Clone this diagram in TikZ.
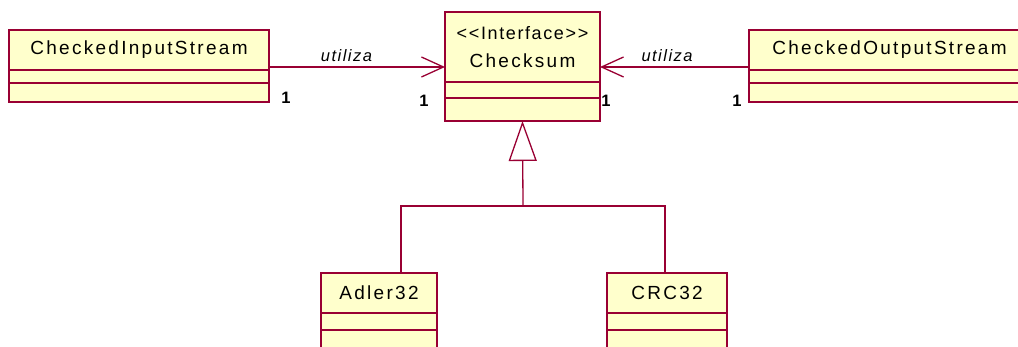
\documentclass[tikz,border=0pt]{standalone}
\usepackage{fontspec}
\setmainfont{Liberation Sans}
\newfontfamily\umlfont[LetterSpace=12]{Liberation Sans}
\newfontfamily\umlsmall[LetterSpace=9]{Liberation Sans}
\usetikzlibrary{positioning,arrows.meta}
\definecolor{umlred}{RGB}{153,0,51}
\definecolor{umlfill}{RGB}{255,255,204}

\tikzset{
	clsname/.style={draw=umlred, fill=umlfill, line width=1.2pt, inner sep=0pt, outer sep=0pt,
		font=\umlfont\fontsize{19}{20}\selectfont},
	clspart/.style={draw=umlred, fill=umlfill, line width=1.2pt, inner sep=0pt, outer sep=0pt},
	clsborder/.style={draw=umlred, line width=2pt},
	uses/.style={draw=umlred, line width=1.3pt, -{Straight Barb[length=22pt, width=20pt, line width=1.3pt]}},
	realize/.style={draw=umlred, line width=1.3pt},
	gen/.style={draw=umlred, line width=1.3pt, -{Triangle[open, length=40pt, width=28pt, fill=white, line width=1.3pt]}},
	mult/.style={inner sep=0pt, font=\bfseries\fontsize{16.5}{18}\selectfont},
	rolename/.style={inner sep=2pt, font=\umlsmall\itshape\fontsize{16.5}{18}\selectfont}
}

\begin{document}
\begin{tikzpicture}[x=1pt, y=-1pt]
	\useasboundingbox (0,0) rectangle (1018,347);
	\clip (0,0) rectangle (1018,347);

	% classes
	\node [clsname, minimum width=260, minimum height=40] (cisname) at (139,50) {CheckedInputStream};
	\node [clspart, minimum width=260, minimum height=13, below=0pt of cisname] (cisattr) {};
	\node [clspart, minimum width=260, minimum height=19, below=0pt of cisattr] (cisops) {};
	\draw [clsborder] (cisname.north west) rectangle (cisops.south east);

	\node [clsname, minimum width=155, minimum height=70, align=center,
		font=\umlfont\fontsize{19}{28}\selectfont] (csname) at (522.5,47)
		{{\umlsmall\fontsize{18}{28}\selectfont \textless\textless Interface\textgreater\textgreater}\\Checksum};
	\node [clspart, minimum width=155, minimum height=16, below=0pt of csname] (csattr) {};
	\node [clspart, minimum width=155, minimum height=23, below=0pt of csattr] (csops) {};
	\draw [clsborder] (csname.north west) rectangle (csops.south east);

	\node [clsname, minimum width=281, minimum height=40] (cosname) at (889.5,50) {CheckedOutputStream};
	\node [clspart, minimum width=281, minimum height=13, below=0pt of cosname] (cosattr) {};
	\node [clspart, minimum width=281, minimum height=19, below=0pt of cosattr] (cosops) {};
	\draw [clsborder] (cosname.north west) rectangle (cosops.south east);

	\node [clsname, minimum width=116, minimum height=40] (adname) at (379,293) {Adler32};
	\node [clspart, minimum width=116, minimum height=17, below=0pt of adname] (adattr) {};
	\node [clspart, minimum width=116, minimum height=24, below=0pt of adattr] (adops) {};
	\draw [clsborder] (adname.north west) rectangle (adops.south east);

	\node [clsname, minimum width=120, minimum height=40] (crcname) at (667,293) {CRC32};
	\node [clspart, minimum width=120, minimum height=17, below=0pt of crcname] (crcattr) {};
	\node [clspart, minimum width=120, minimum height=24, below=0pt of crcattr] (crcops) {};
	\draw [clsborder] (crcname.north west) rectangle (crcops.south east);

	% associations
	\draw [uses] ([yshift=3pt]cisname.south east) -- ([yshift=3pt]cisname.south east -| csname.west)
		node [rolename, pos=0.44, above=3pt] (usesin) {utiliza};
	\draw [uses] ([yshift=3pt]cosname.south west) -- ([yshift=3pt]cosname.south west -| csname.east)
		node [rolename, pos=0.55, above=3pt] (usesout) {utiliza};
	\node [mult] (m1) at (286,98) {1};
	\node [mult] (m2) at (424,101) {1};
	\node [mult] (m3) at (606,101) {1};
	\node [mult] (m4) at (737,101) {1};

	% generalization
	\coordinate (genjoin) at (523,206);
	\draw [realize] ([xshift=22pt]adname.north) |- (genjoin) -| ([xshift=-2pt]crcname.north);
	\draw [gen] (genjoin) -- (csops.south);
\end{tikzpicture}
\end{document}
